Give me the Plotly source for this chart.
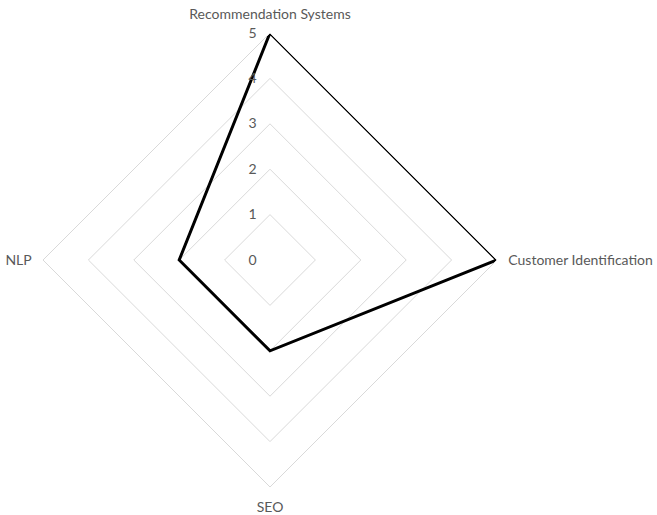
import plotly.graph_objects as go

categories = ["Recommendation Systems", "Customer Identification", "SEO", "NLP"]
values = [5, 5, 2, 2]
radial_ticks = [0, 1, 2, 3, 4, 5]

W, H = 657, 515
cx, cy, R = 270, 260, 227

fig = go.Figure()
fig.add_trace(go.Scatterpolar(
    r=values + values[:1],
    theta=categories + categories[:1],
    mode="lines",
    line=dict(color="black", width=3),
    showlegend=False,
))

fig.update_layout(
    width=W, height=H,
    margin=dict(l=0, r=0, t=0, b=0),
    paper_bgcolor="white",
    font=dict(family="Lato, Open Sans, sans-serif", size=14, color="#595959"),
    polar=dict(
        domain=dict(x=[(cx - R) / W, (cx + R) / W], y=[(H - cy - R) / H, (H - cy + R) / H]),
        bgcolor="white",
        gridshape="linear",
        radialaxis=dict(
            range=[0, 5], tickvals=radial_ticks, ticktext=[str(v) for v in radial_ticks],
            angle=90, side="counterclockwise", tickangle=90, showline=False,
            ticks="outside", ticklen=8, tickcolor="rgba(0,0,0,0)",
            gridcolor="#d9d9d9", gridwidth=1,
            tickfont=dict(size=14, color="#595959"),
        ),
        angularaxis=dict(
            rotation=90, direction="clockwise",
            showgrid=False, showline=True, linecolor="#d9d9d9", linewidth=1,
            ticks="outside", ticklen=8, tickcolor="rgba(0,0,0,0)",
            tickfont=dict(size=14, color="#595959"),
        ),
    ),
)

fig.write_html("out.html")
